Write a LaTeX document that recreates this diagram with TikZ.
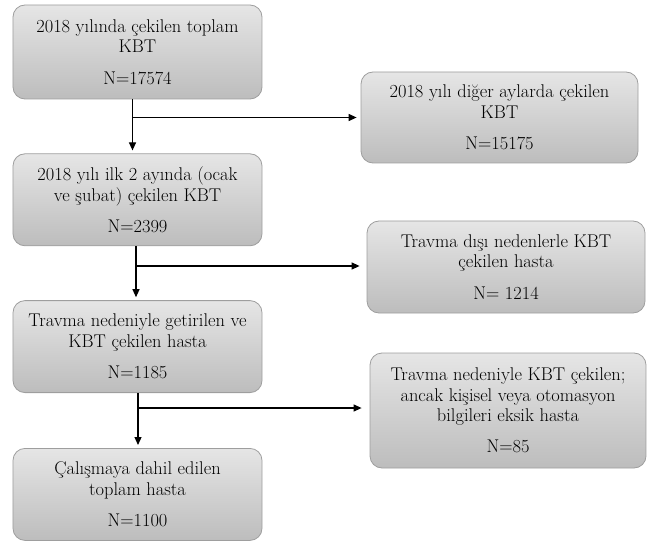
\documentclass[tikz,border=0pt]{standalone}
\usepackage{fontspec}
\usetikzlibrary{positioning,arrows.meta,calc}
\tikzset{
  box/.style   ={draw=black!38, line width=0.8bp, rounded corners=12bp,
                 top color=black!10, bottom color=black!26,
                 minimum width=249bp, minimum height=92bp, align=center,
                 inner sep=2bp, font=\rmfamily\fontsize{18.5}{20.5}\selectfont},
  side/.style  ={box, minimum width=277bp},
  fl/.style    ={-{Triangle[length=8bp,width=7bp]}, line width=1.2bp},
}

\begin{document}
\begin{tikzpicture}[x=1bp, y=-1bp, node distance=54bp]
  \useasboundingbox (0,0) rectangle (647,541);

  % main column
  \node[box, minimum height=94bp] (total) at (137.5,52) {2018 yılında çekilen toplam\\KBT\\[11bp]N=17574};
  \node[box, below=of total] (first2) {2018 yılı ilk 2 ayında (ocak\\ve şubat) çekilen KBT\\[11bp]N=2399};
  \node[box, below=of first2] (trauma) {Travma nedeniyle getirilen ve\\KBT çekilen hasta\\[11bp]N=1185};
  \node[box, below=55bp of trauma] (incl) {Çalışmaya dahil edilen\\toplam hasta\\[11bp]N=1100};

  % excluded (right)
  \node[side, minimum height=91bp] (other) at (499.5,117.5) {2018 yılı diğer aylarda çekilen\\KBT\\[11bp]N=15175};
  \node[side, minimum width=278bp] (nontr) at (506,267) {Travma dışı nedenlerle KBT\\çekilen hasta\\[11bp]N= 1214};
  \node[side, minimum width=276bp, minimum height=115bp] (missing) at (508,410.5) {Travma nedeniyle KBT çekilen;\\ancak kişisel veya otomasyon\\bilgileri eksik hasta\\[11bp]N=85};

  \coordinate (j1) at ([xshift=-5bp]total.south |- other.west);
  \coordinate (j2) at ([xshift=-1.5bp]first2.south |- nontr.west);
  \coordinate (j3) at ([xshift=0.5bp]trauma.south |- missing.west);

  \draw[fl, shorten >=3bp] ([xshift=-5bp]total.south) -- ([xshift=-5bp]first2.north);
  \draw[fl, shorten >=4bp] (j1) -- (other.west);
  \draw[fl, shorten >=3bp] ([xshift=-1.5bp]first2.south) -- ([xshift=-1.5bp]trauma.north);
  \draw[fl, shorten >=7bp] ([yshift=1bp]j2) -- ([yshift=1bp]nontr.west);
  \draw[fl, shorten >=3bp] ([xshift=0.5bp]trauma.south) -- ([xshift=0.5bp]incl.north);
  \draw[fl, shorten >=8bp] ([yshift=2.5bp]j3) -- ([yshift=2.5bp]missing.west);
\end{tikzpicture}
\end{document}
